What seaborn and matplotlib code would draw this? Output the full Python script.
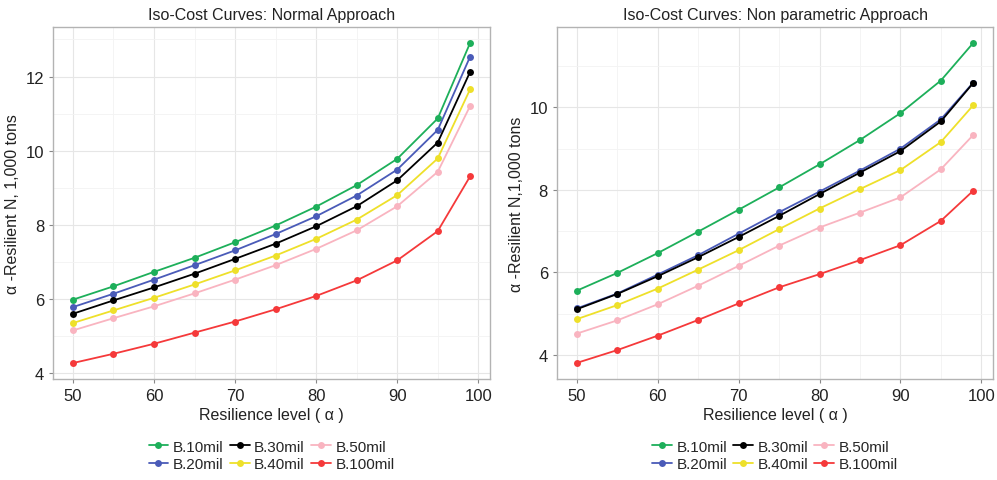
import pandas as pd
import matplotlib
matplotlib.use("Agg")
import matplotlib.pyplot as plt
import seaborn as sns

levels = [50, 55, 60, 65, 70, 75, 80, 85, 90, 95, 99]
budgets = ["B.10mil", "B.20mil", "B.30mil", "B.40mil", "B.50mil", "B.100mil"]
colors = ["#1DAF5A", "#4A5BB8", "#000000", "#EEE02A", "#F9B4C0", "#F5393A"]

# normal approach (left panel)
normal_b10 = [5.98, 6.34, 6.73, 7.11, 7.53, 7.98, 8.49, 9.07, 9.78, 10.87, 12.91]
normal_b20 = [5.78, 6.14, 6.52, 6.91, 7.31, 7.75, 8.23, 8.79, 9.49, 10.56, 12.54]
normal_b30 = [5.60, 5.96, 6.31, 6.68, 7.08, 7.49, 7.96, 8.50, 9.20, 10.22, 12.13]
normal_b40 = [5.35, 5.69, 6.03, 6.39, 6.77, 7.17, 7.62, 8.14, 8.80, 9.79, 11.66]
normal_b50 = [5.15, 5.48, 5.80, 6.15, 6.52, 6.91, 7.35, 7.85, 8.50, 9.43, 11.21]
normal_b100 = [4.27, 4.52, 4.79, 5.09, 5.39, 5.72, 6.08, 6.50, 7.04, 7.83, 9.31]

# non parametric approach (right panel)
nonpar_b10 = [5.56, 5.99, 6.47, 6.99, 7.52, 8.06, 8.62, 9.21, 9.86, 10.65, 11.56]
nonpar_b20 = [5.13, 5.49, 5.95, 6.42, 6.94, 7.46, 7.96, 8.47, 9.00, 9.71, 10.60]
nonpar_b30 = [5.11, 5.48, 5.91, 6.37, 6.86, 7.37, 7.90, 8.42, 8.94, 9.66, 10.59]
nonpar_b40 = [4.87, 5.21, 5.61, 6.07, 6.54, 7.05, 7.55, 8.02, 8.48, 9.16, 10.05]
nonpar_b50 = [4.52, 4.84, 5.23, 5.68, 6.16, 6.65, 7.09, 7.45, 7.82, 8.50, 9.33]
nonpar_b100 = [3.81, 4.12, 4.47, 4.85, 5.25, 5.64, 5.96, 6.30, 6.66, 7.25, 7.98]

normal = [normal_b10, normal_b20, normal_b30, normal_b40, normal_b50, normal_b100]
nonpar = [nonpar_b10, nonpar_b20, nonpar_b30, nonpar_b40, nonpar_b50, nonpar_b100]


def to_long(series):
    rows = []
    for name, vals in zip(budgets, series):
        for lv, v in zip(levels, vals):
            rows.append({"level": lv, "value": v, "budget": name})
    return pd.DataFrame(rows)


sns.set_style("white")
plt.rcParams["font.family"] = ["Liberation Sans", "DejaVu Sans"]

fig = plt.figure(figsize=(9.97, 4.81), dpi=100)
ax1 = fig.add_axes([0.0532, 0.21, 0.4383, 0.732])
ax2 = fig.add_axes([0.5587, 0.21, 0.4373, 0.732])

panels = [
    (ax1, normal, "Iso-Cost Curves: Normal Approach", "α -Resilient N, 1,000 tons",
     (3.84, 13.34), [4, 6, 8, 10, 12], [5, 7, 9, 11, 13]),
    (ax2, nonpar, "Iso-Cost Curves: Non parametric Approach", "α -Resilient N,1,000 tons",
     (3.42, 11.95), [4, 6, 8, 10], [5, 7, 9, 11]),
]

for ax, series, title, ylabel, ylim, yticks, yminor in panels:
    df = to_long(series)
    sns.lineplot(data=df, x="level", y="value", hue="budget", hue_order=budgets,
                 palette=colors, marker="o", markersize=5, markeredgewidth=0,
                 linewidth=1.3, ax=ax, legend=True)
    ax.set_xlim(47.55, 101.45)
    ax.set_ylim(*ylim)
    ax.set_xticks([50, 60, 70, 80, 90, 100])
    ax.set_xticks([55, 65, 75, 85, 95], minor=True)
    ax.set_yticks(yticks)
    ax.set_yticks(yminor, minor=True)
    ax.grid(True, which="major", color="#E6E6E6", linewidth=0.8)
    ax.grid(True, which="minor", color="#F3F3F3", linewidth=0.6)
    ax.set_axisbelow(True)
    for sp in ax.spines.values():
        sp.set_color("#B3B3B3")
        sp.set_linewidth(1.0)
    ax.tick_params(which="major", direction="out", length=3, width=0.8, color="#888888",
                   labelsize=12, labelcolor="#222222", left=True, bottom=True)
    ax.tick_params(which="minor", length=0)
    ax.set_title(title, fontsize=11.5, color="#222222", pad=6)
    ax.set_xlabel("Resilience level ( α )", fontsize=11.5, color="#222222", labelpad=3)
    ax.set_ylabel(ylabel, fontsize=11.5, color="#222222", labelpad=4)
    handles, labels = ax.get_legend_handles_labels()
    ax.legend(handles, labels, ncol=3, loc="upper center", bbox_to_anchor=(0.5, -0.155),
              frameon=False, fontsize=11, handlelength=1.3, handletextpad=0.3,
              columnspacing=0.4, labelspacing=0.25, borderaxespad=0)

fig.savefig("out.png", dpi=100)
